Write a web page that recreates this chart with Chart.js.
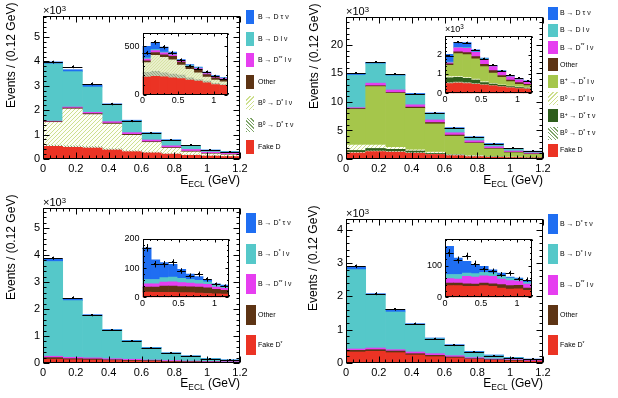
<!DOCTYPE html>
<html>
<head>
<meta charset="utf-8">
<script src="https://cdn.jsdelivr.net/npm/chart.js@4.4.1/dist/chart.umd.min.js"></script>
<style>
  body { margin: 0; background: #fff; font-family: "Liberation Sans", Arial, sans-serif; }
  #page { position: relative; width: 618px; height: 398px; overflow: hidden; background: #fff; }
  canvas { position: absolute; }
  .txt { position: absolute; white-space: nowrap; color: #000; }
  .box { position: absolute; }
  sup { font-size: 70%; vertical-align: 0; position: relative; top: -0.45em; }
  sub { font-size: 70%; vertical-align: 0; position: relative; top: 0.35em; }
</style>
</head>
<body>
<div id="page"></div>
<script>
// centri dei bin in E_ECL (GeV), larghezza 0.12
const binCenters = [0.06, 0.18, 0.30, 0.42, 0.54, 0.66, 0.78, 0.90, 1.02, 1.14];
const binHalf = 0.06;

// valori delle tacche con etichetta
const mainXTicks = [0, 0.2, 0.4, 0.6, 0.8, 1, 1.2];
const insetXTicks = [0, 0.5, 1];
const p1YTicks = [0, 1, 2, 3, 4, 5];
const p2YTicks = [0, 5, 10, 15, 20];
const p3YTicks = [0, 1, 2, 3, 4, 5];
const p4YTicks = [0, 1, 2, 3, 4];
const i1YTicks = [0, 500];
const i2YTicks = [0, 1, 2];
const i3YTicks = [0, 100, 200];
const i4YTicks = [0, 100];

// --- pannello 1 (in alto a sinistra), unità 10^3 ---
const p1Fake     = [0.52, 0.48, 0.45, 0.37, 0.30, 0.25, 0.20, 0.15, 0.12, 0.10];
const p1B0DstTau = [0.05, 0.06, 0.06, 0.05, 0.04, 0.03, 0.02, 0.02, 0.01, 0.01];
const p1B0DstL   = [0.93, 1.51, 1.31, 1.01, 0.63, 0.40, 0.22, 0.12, 0.08, 0.06];
const p1Other    = [0.03, 0.04, 0.04, 0.04, 0.04, 0.03, 0.03, 0.03, 0.02, 0.02];
const p1Dss      = [0.02, 0.04, 0.05, 0.06, 0.07, 0.07, 0.07, 0.07, 0.05, 0.04];
const p1DL       = [2.35, 1.45, 1.04, 0.69, 0.48, 0.28, 0.23, 0.14, 0.08, 0.07];
const p1DTau     = [0.08, 0.08, 0.08, 0.04, 0.03, 0.02, 0.02, 0.01, 0.01, 0.01];
const p1Data     = [3.97, 3.78, 3.08, 2.25, 1.55, 1.05, 0.78, 0.56, 0.38, 0.30];
const p1Err      = [0.06, 0.06, 0.06, 0.05, 0.04, 0.03, 0.03, 0.02, 0.02, 0.02];
// inserto pannello 1 (eventi)
const i1Fake     = [180, 188, 182, 172, 165, 150, 138, 122, 104, 94];
const i1B0DstTau = [50, 52, 43, 40, 35, 22, 17, 16, 11, 10];
const i1B0DstL   = [100, 165, 160, 148, 105, 88, 70, 42, 35, 28];
const i1Other    = [20, 30, 25, 35, 30, 23, 33, 26, 22, 23];
const i1Dss      = [18, 20, 22, 17, 10, 10, 10, 10, 11, 10];
const i1DL       = [12, 10, 8, 8, 7, 7, 7, 6, 5, 4];
const i1DTau     = [120, 75, 50, 20, 10, 10, 8, 9, 9, 5];
const i1Data     = [431, 540, 490, 431, 355, 293, 269, 234, 190, 162];
const i1Err      = [21, 23, 22, 21, 19, 17, 16, 15, 14, 13];

// --- pannello 2 (in alto a destra), unità 10^3 ---
const p2Fake     = [1.05, 1.30, 1.20, 1.00, 0.80, 0.58, 0.40, 0.30, 0.25, 0.20];
const p2B0DstTau = [0.10, 0.10, 0.10, 0.10, 0.05, 0.04, 0.03, 0.02, 0.02, 0.02];
const p2BpDstTau = [0.35, 0.45, 0.40, 0.30, 0.15, 0.10, 0.07, 0.05, 0.03, 0.03];
const p2B0DstL   = [0.95, 0.60, 0.35, 0.20, 0.20, 0.10, 0.10, 0.05, 0.04, 0.03];
const p2BpDstL   = [6.25, 10.25, 9.45, 7.30, 4.95, 3.18, 2.15, 1.33, 0.76, 0.52];
const p2Other    = [0.15, 0.15, 0.15, 0.20, 0.25, 0.20, 0.10, 0.10, 0.10, 0.10];
const p2Dss      = [0.15, 0.45, 0.45, 0.40, 0.45, 0.40, 0.35, 0.30, 0.20, 0.15];
const p2DL       = [5.70, 3.40, 2.50, 1.85, 1.05, 0.70, 0.55, 0.45, 0.35, 0.25];
const p2DTau     = [0.30, 0.25, 0.25, 0.15, 0.20, 0.20, 0.15, 0.12, 0.10, 0.08];
const p2Data     = [15.1, 17.0, 14.9, 11.4, 8.0, 5.4, 3.8, 2.7, 1.85, 1.4];
const p2Err      = [0.12, 0.13, 0.12, 0.11, 0.09, 0.07, 0.06, 0.05, 0.04, 0.04];
// inserto pannello 2 (10^3)
const i2Fake     = [0.50, 0.53, 0.50, 0.47, 0.43, 0.38, 0.33, 0.28, 0.25, 0.22];
const i2B0DstTau = [0.05, 0.05, 0.05, 0.03, 0.02, 0.02, 0.02, 0.02, 0.02, 0.02];
const i2BpDstTau = [0.25, 0.24, 0.23, 0.18, 0.11, 0.08, 0.06, 0.05, 0.04, 0.03];
const i2B0DstL   = [0.08, 0.06, 0.05, 0.05, 0.04, 0.03, 0.03, 0.02, 0.02, 0.02];
const i2BpDstL   = [0.57, 1.17, 1.17, 1.05, 0.78, 0.54, 0.38, 0.23, 0.14, 0.11];
const i2Other    = [0.07, 0.10, 0.10, 0.12, 0.12, 0.12, 0.10, 0.08, 0.08, 0.07];
const i2Dss      = [0.06, 0.20, 0.23, 0.22, 0.25, 0.21, 0.20, 0.17, 0.15, 0.13];
const i2DL       = [0.04, 0.03, 0.03, 0.03, 0.03, 0.03, 0.03, 0.02, 0.02, 0.02];
const i2DTau     = [0.40, 0.26, 0.26, 0.10, 0.04, 0.03, 0.03, 0.03, 0.03, 0.02];
const i2Data     = [1.95, 2.64, 2.62, 2.24, 1.80, 1.45, 1.17, 0.93, 0.77, 0.65];
const i2Err      = [0.045, 0.05, 0.05, 0.047, 0.042, 0.038, 0.034, 0.03, 0.028, 0.025];

// --- pannello 3 (in basso a sinistra), unità 10^3 ---
const p3Fake  = [0.14, 0.12, 0.11, 0.09, 0.07, 0.06, 0.04, 0.03, 0.02, 0.02];
const p3Other = [0.06, 0.04, 0.04, 0.03, 0.03, 0.03, 0.02, 0.02, 0.02, 0.01];
const p3Dss   = [0.05, 0.05, 0.04, 0.04, 0.04, 0.02, 0.03, 0.02, 0.02, 0.02];
const p3DL    = [3.51, 2.10, 1.55, 1.06, 0.68, 0.45, 0.28, 0.19, 0.10, 0.06];
const p3DTau  = [0.09, 0.07, 0.05, 0.02, 0.02, 0.02, 0.01, 0.01, 0.01, 0.01];
const p3Data  = [3.88, 2.42, 1.77, 1.22, 0.82, 0.56, 0.38, 0.26, 0.15, 0.10];
const p3Err   = [0.06, 0.05, 0.04, 0.035, 0.03, 0.024, 0.02, 0.016, 0.012, 0.01];
// inserto pannello 3 (eventi)
const i3Fake  = [18, 17, 17, 17, 16, 16, 14, 13, 12, 11];
const i3Other = [17, 18, 21, 21, 21, 20, 21, 19, 15, 13];
const i3Dss   = [11, 11, 14, 15, 13, 13, 11, 12, 8, 7];
const i3DL    = [15, 15, 15, 16, 15, 12, 12, 9, 7, 6];
const i3DTau  = [108, 67, 52, 44, 31, 18, 13, 8, 4, 5];
const i3Data  = [169, 113, 113, 119, 90, 73, 79, 61, 44, 38];
const i3Err   = [13, 11, 11, 11, 9.5, 8.5, 9, 8, 6.6, 6.2];

// --- pannello 4 (in basso a destra), unità 10^3 ---
const p4Fake  = [0.33, 0.35, 0.31, 0.24, 0.19, 0.15, 0.11, 0.08, 0.06, 0.05];
const p4Other = [0.05, 0.05, 0.05, 0.04, 0.04, 0.03, 0.02, 0.02, 0.02, 0.01];
const p4Dss   = [0.04, 0.05, 0.04, 0.05, 0.05, 0.04, 0.03, 0.02, 0.02, 0.02];
const p4DL    = [2.38, 1.58, 1.13, 0.82, 0.45, 0.31, 0.17, 0.10, 0.06, 0.03];
const p4DTau  = [0.08, 0.05, 0.07, 0.03, 0.02, 0.02, 0.02, 0.02, 0.01, 0.01];
const p4Data  = [2.90, 2.08, 1.61, 1.18, 0.73, 0.53, 0.33, 0.22, 0.16, 0.11];
const p4Err   = [0.055, 0.046, 0.04, 0.034, 0.027, 0.023, 0.018, 0.015, 0.013, 0.012];
// inserto pannello 4 (eventi)
const i4Fake  = [37, 37, 35, 35, 37, 35, 29, 26, 27, 22];
const i4Other = [8, 8, 8, 7, 8, 8, 11, 11, 11, 7];
const i4Dss   = [14, 13, 23, 22, 23, 23, 18, 16, 13, 13];
const i4DL    = [13, 14, 11, 11, 11, 11, 8, 8, 7, 5];
const i4DTau  = [89, 52, 37, 28, 19, 10, 11, 3, 3, 4];
const i4Data  = [140, 118, 130, 106, 89, 82, 72, 76, 58, 56];
const i4Err   = [12, 11, 11, 10, 9.5, 9, 8, 8, 7, 7];

// etichette legenda (dall'alto in basso)
const legend1 = ['B → D τ ν', 'B → D l ν', 'B → D<sup>**</sup> l ν', 'Other', 'B<sup>0</sup> → D<sup>*</sup> l ν', 'B<sup>0</sup> → D<sup>*</sup> τ ν', 'Fake D'];
const legend2 = ['B → D τ ν', 'B → D l ν', 'B → D<sup>**</sup> l ν', 'Other', 'B<sup>+</sup> → D<sup>*</sup> l ν', 'B<sup>0</sup> → D<sup>*</sup> l ν', 'B<sup>+</sup> → D<sup>*</sup> τ ν', 'B<sup>0</sup> → D<sup>*</sup> τ ν', 'Fake D'];
const legend34 = ['B → D<sup>*</sup> τ ν', 'B → D<sup>*</sup> l ν', 'B → D<sup>**</sup> l ν', 'Other', 'Fake D<sup>*</sup>'];

// colori stile ROOT
const cTau = '#1f6ef2', cDL = '#55c8c9', cDss = '#e63ef0', cOther = '#5d3414',
      cBpL = '#a5c64b', cBpTau = '#2e5e1c', cFake = '#eb3324';

const page = document.getElementById('page');

function hatch(line, bg, size, back) {
  const c = document.createElement('canvas');
  c.width = size; c.height = size;
  const g = c.getContext('2d');
  g.fillStyle = bg; g.fillRect(0, 0, size, size);
  g.strokeStyle = line; g.lineWidth = 1;
  g.beginPath();
  for (const k of [-size, 0, size]) {
    if (back) { g.moveTo(k, 0); g.lineTo(k + size, size); }
    else { g.moveTo(k, size); g.lineTo(k + size, 0); }
  }
  g.stroke();
  return g.createPattern(c, 'repeat');
}
// tratteggi: linee verde chiaro su fondo quasi bianco
const hB0L = hatch('#cddf8e', '#fdfef6', 4, false);
const hB0Tau = hatch('#7fa56a', '#f4f8ee', 3, true);
const hB0Lin = hatch('#d6e2a6', '#e9efca', 3, false);
const hB0Tauin = hatch('#98a884', '#c2cbae', 3, true);

// plugin: sfondo bianco, barre d'errore dei dati, cornice e tacche
const hepPlugin = {
  id: 'hep',
  beforeDraw(chart) {
    const a = chart.chartArea, ctx = chart.ctx;
    ctx.save();
    ctx.fillStyle = '#fff';
    ctx.fillRect(a.left, a.top, a.right - a.left, a.bottom - a.top);
    ctx.restore();
  },
  afterDatasetsDraw(chart, args, opts) {
    if (!opts.data) return;
    const xs = chart.scales.x, ys = chart.scales.y, ctx = chart.ctx;
    ctx.save();
    ctx.strokeStyle = '#000';
    ctx.fillStyle = '#000';
    ctx.lineWidth = 1;
    opts.data.forEach((v, i) => {
      const cx = Math.round(xs.getPixelForValue(binCenters[i])) + 0.5;
      const x0 = xs.getPixelForValue(binCenters[i] - binHalf);
      const x1 = xs.getPixelForValue(binCenters[i] + binHalf);
      const py = Math.round(ys.getPixelForValue(v)) + 0.5;
      ctx.beginPath();
      ctx.moveTo(x0, py); ctx.lineTo(x1, py);
      ctx.moveTo(cx, ys.getPixelForValue(v - opts.err[i]));
      ctx.lineTo(cx, ys.getPixelForValue(v + opts.err[i]));
      ctx.stroke();
      ctx.fillRect(cx - 1.5, py - 1.5, 2, 2);
    });
    ctx.restore();
  },
  afterDraw(chart, args, opts) {
    const a = chart.chartArea, ctx = chart.ctx;
    const xs = chart.scales.x, ys = chart.scales.y;
    const L = Math.round(a.left) + 0.5, R = Math.round(a.right) - 0.5;
    const T = Math.round(a.top) + 0.5, B = Math.round(a.bottom) - 0.5;
    ctx.save();
    ctx.strokeStyle = '#000';
    ctx.lineWidth = 1;
    ctx.beginPath();
    const tl = opts.tick || 6;
    // tacche asse x
    let n = Math.round((xs.max - xs.min) / opts.xMinor);
    for (let k = 0; k <= n; k++) {
      const v = xs.min + k * opts.xMinor;
      const major = Math.abs(v / opts.xMajor - Math.round(v / opts.xMajor)) < 1e-6;
      const len = major ? tl : tl / 2;
      const px = Math.round(xs.getPixelForValue(v)) + 0.5;
      ctx.moveTo(px, B); ctx.lineTo(px, B - len);
      ctx.moveTo(px, T); ctx.lineTo(px, T + len);
    }
    // tacche asse y
    n = Math.floor((ys.max - ys.min) / opts.yMinor + 1e-6);
    for (let k = 0; k <= n; k++) {
      const v = ys.min + k * opts.yMinor;
      const major = Math.abs(v / opts.yMajor - Math.round(v / opts.yMajor)) < 1e-6;
      const len = major ? tl : tl / 2;
      const py = Math.round(ys.getPixelForValue(v)) + 0.5;
      ctx.moveTo(L, py); ctx.lineTo(L + len, py);
      ctx.moveTo(R, py); ctx.lineTo(R - len, py);
    }
    ctx.stroke();
    ctx.strokeRect(L, T, R - L, B - T);
    ctx.restore();
  }
};
Chart.register(hepPlugin);
Chart.defaults.font.family = '"Liberation Sans", Arial, sans-serif';
Chart.defaults.color = '#000';

// box = canvas sulla pagina, frame = area del grafico sulla pagina
function histChart(box, frame, stack, data, err, o) {
  const cv = document.createElement('canvas');
  cv.width = box.w; cv.height = box.h;
  cv.style.left = box.x + 'px'; cv.style.top = box.y + 'px';
  page.appendChild(cv);
  const yW = frame.l - box.x, xH = box.y + box.h - frame.b;
  new Chart(cv, {
    type: 'bar',
    data: {
      datasets: stack.map(s => ({
        label: s.label,
        data: s.values.map((v, i) => ({ x: binCenters[i], y: v })),
        backgroundColor: s.color,
        borderWidth: 0,
        barPercentage: 1,
        categoryPercentage: 1
      }))
    },
    options: {
      responsive: false,
      animation: false,
      devicePixelRatio: 1,
      layout: { padding: { left: 0, top: frame.t - box.y, right: box.x + box.w - frame.r, bottom: 0 } },
      plugins: {
        legend: { display: false },
        tooltip: { enabled: false },
        hep: { data: data, err: err, xMajor: o.xStep, xMinor: o.xMinor, yMajor: o.yStep, yMinor: o.yMinor, tick: o.tick }
      },
      scales: {
        x: {
          type: 'linear', min: 0, max: 1.2, offset: false, stacked: true,
          grid: { display: false, drawTicks: false, offset: false },
          border: { display: false },
          ticks: { autoSkip: false, maxRotation: 0, padding: o.xPad, font: { size: o.font }, callback: v => String(v) },
          afterBuildTicks: s => { s.ticks = o.xTicks.map(v => ({ value: v })); },
          afterFit: s => { s.height = xH; }
        },
        y: {
          type: 'linear', min: 0, max: o.yMax, stacked: true,
          grid: { display: false, drawTicks: false },
          border: { display: false },
          ticks: { autoSkip: false, padding: 3, font: { size: o.font }, callback: v => String(v) },
          afterBuildTicks: s => { s.ticks = o.yTicks.map(v => ({ value: v })); },
          afterFit: s => { s.width = yW; }
        }
      }
    }
  });
}

function text(html, left, top, size, extra) {
  const d = document.createElement('div');
  d.className = 'txt';
  d.innerHTML = html;
  d.style.left = left + 'px';
  d.style.top = top + 'px';
  d.style.fontSize = size + 'px';
  d.style.lineHeight = Math.round(size * 1.2) + 'px';
  if (extra) Object.assign(d.style, extra);
  page.appendChild(d);
  return d;
}

function yTitle(cx, bottom) {
  text('Events / (0.12 GeV)', cx - 7, bottom, 12, { transformOrigin: '0 0', transform: 'rotate(-90deg)', lineHeight: '14px' });
}
function xTitle(right, cy) {
  text('E<sub>ECL</sub> (GeV)', 0, cy - 7, 12, { left: 'auto', right: (618 - right) + 'px', lineHeight: '14px' });
}

function legend(labels, fills, bx, bw, bh, y0, dy, tx) {
  labels.forEach((lab, i) => {
    const cy = y0 + i * dy;
    const b = document.createElement('div');
    b.className = 'box';
    b.style.left = bx + 'px'; b.style.top = (cy - bh / 2) + 'px';
    b.style.width = bw + 'px'; b.style.height = bh + 'px';
    b.style.background = fills[i];
    page.appendChild(b);
    text(lab, tx, cy - 5, 7, { lineHeight: '10px' });
  });
}
const cssB0L = 'repeating-linear-gradient(-45deg, #cddf8e 0 1px, #ffffff 1px 3px)';
const cssB0Tau = 'repeating-linear-gradient(45deg, #7fa56a 0 1px, #ffffff 1px 2.5px)';

// ---------- pannello 1 ----------
const mainOpt = (yMax, yTicks, yStep, yMinor) => ({ yMax, yTicks, yStep, yMinor, xTicks: mainXTicks, xStep: 0.2, xMinor: 0.04, font: 11, xPad: 3, tick: 6 });
histChart({ x: 0, y: 0, w: 254, h: 192 }, { l: 43, t: 16, r: 240, b: 159 }, [
  { label: 'Fake D', values: p1Fake, color: cFake },
  { label: 'B0 D*tau', values: p1B0DstTau, color: hB0Tau },
  { label: 'B0 D*l', values: p1B0DstL, color: hB0L },
  { label: 'Other', values: p1Other, color: cOther },
  { label: 'D**', values: p1Dss, color: cDss },
  { label: 'Dl', values: p1DL, color: cDL },
  { label: 'Dtau', values: p1DTau, color: cTau }
], p1Data, p1Err, mainOpt(5.86, p1YTicks, 1, 0.2));

const insOpt = (yMax, yTicks, yStep, yMinor) => ({ yMax, yTicks, yStep, yMinor, xTicks: insetXTicks, xStep: 0.5, xMinor: 0.1, font: 9, xPad: 1, tick: 3 });
histChart({ x: 110, y: 23, w: 125, h: 85 }, { l: 142.5, t: 33, r: 228, b: 94.5 }, [
  { label: 'Fake D', values: i1Fake, color: cFake },
  { label: 'B0 D*tau', values: i1B0DstTau, color: hB0Tauin },
  { label: 'B0 D*l', values: i1B0DstL, color: hB0Lin },
  { label: 'Other', values: i1Other, color: cOther },
  { label: 'D**', values: i1Dss, color: cDss },
  { label: 'Dl', values: i1DL, color: cDL },
  { label: 'Dtau', values: i1DTau, color: cTau }
], i1Data, i1Err, insOpt(637, i1YTicks, 500, 100));

// ---------- pannello 2 ----------
histChart({ x: 303, y: 0, w: 254, h: 192 }, { l: 346, t: 17, r: 543, b: 159 }, [
  { label: 'Fake D', values: p2Fake, color: cFake },
  { label: 'B0 D*tau', values: p2B0DstTau, color: hB0Tau },
  { label: 'B+ D*tau', values: p2BpDstTau, color: cBpTau },
  { label: 'B0 D*l', values: p2B0DstL, color: hB0L },
  { label: 'B+ D*l', values: p2BpDstL, color: cBpL },
  { label: 'Other', values: p2Other, color: cOther },
  { label: 'D**', values: p2Dss, color: cDss },
  { label: 'Dl', values: p2DL, color: cDL },
  { label: 'Dtau', values: p2DTau, color: cTau }
], p2Data, p2Err, mainOpt(24.9, p2YTicks, 5, 1));

histChart({ x: 413, y: 25, w: 125, h: 83 }, { l: 445, t: 35.5, r: 532, b: 93.3 }, [
  { label: 'Fake D', values: i2Fake, color: cFake },
  { label: 'B0 D*tau', values: i2B0DstTau, color: hB0Tauin },
  { label: 'B+ D*tau', values: i2BpDstTau, color: cBpTau },
  { label: 'B0 D*l', values: i2B0DstL, color: hB0Lin },
  { label: 'B+ D*l', values: i2BpDstL, color: cBpL },
  { label: 'Other', values: i2Other, color: cOther },
  { label: 'D**', values: i2Dss, color: cDss },
  { label: 'Dl', values: i2DL, color: cDL },
  { label: 'Dtau', values: i2DTau, color: cTau }
], i2Data, i2Err, insOpt(2.99, i2YTicks, 1, 0.2));

// ---------- pannello 3 ----------
histChart({ x: 0, y: 196, w: 254, h: 198 }, { l: 43, t: 208, r: 240, b: 363 }, [
  { label: 'Fake D*', values: p3Fake, color: cFake },
  { label: 'Other', values: p3Other, color: cOther },
  { label: 'D**', values: p3Dss, color: cDss },
  { label: 'D*l', values: p3DL, color: cDL },
  { label: 'D*tau', values: p3DTau, color: cTau }
], p3Data, p3Err, mainOpt(5.74, p3YTicks, 1, 0.2));

histChart({ x: 110, y: 228, w: 125, h: 83 }, { l: 142.5, t: 238.5, r: 229, b: 297.3 }, [
  { label: 'Fake D*', values: i3Fake, color: cFake },
  { label: 'Other', values: i3Other, color: cOther },
  { label: 'D**', values: i3Dss, color: cDss },
  { label: 'D*l', values: i3DL, color: cDL },
  { label: 'D*tau', values: i3DTau, color: cTau }
], i3Data, i3Err, insOpt(201, i3YTicks, 100, 20));

// ---------- pannello 4 ----------
histChart({ x: 303, y: 196, w: 254, h: 198 }, { l: 346, t: 219, r: 543, b: 363 }, [
  { label: 'Fake D*', values: p4Fake, color: cFake },
  { label: 'Other', values: p4Other, color: cOther },
  { label: 'D**', values: p4Dss, color: cDss },
  { label: 'D*l', values: p4DL, color: cDL },
  { label: 'D*tau', values: p4DTau, color: cTau }
], p4Data, p4Err, mainOpt(4.32, p4YTicks, 1, 0.2));

histChart({ x: 413, y: 228, w: 125, h: 83 }, { l: 445, t: 238.5, r: 531.5, b: 297.3 }, [
  { label: 'Fake D*', values: i4Fake, color: cFake },
  { label: 'Other', values: i4Other, color: cOther },
  { label: 'D**', values: i4Dss, color: cDss },
  { label: 'D*l', values: i4DL, color: cDL },
  { label: 'D*tau', values: i4DTau, color: cTau }
], i4Data, i4Err, insOpt(186, i4YTicks, 100, 20));

// ---------- testi ----------
yTitle(11, 108); yTitle(314, 109); yTitle(11, 300); yTitle(313, 311);
xTitle(240, 180); xTitle(543, 180); xTitle(240, 383); xTitle(543, 383);
text('×10<sup>3</sup>', 43, 4, 11); text('×10<sup>3</sup>', 346, 5, 11);
text('×10<sup>3</sup>', 43, 196, 11); text('×10<sup>3</sup>', 346, 207, 11);
text('×10<sup>3</sup>', 445, 24, 9);

legend(legend1, [cTau, cDL, cDss, cOther, cssB0L, cssB0Tau, cFake], 246, 8, 14, 17, 21.6, 258);
legend(legend2, [cTau, cDL, cDss, cOther, cBpL, cssB0L, cBpTau, cssB0Tau, cFake], 548, 10, 13, 13.3, 17.1, 560);
legend(legend34, [cTau, cDL, cDss, cOther, cFake], 246, 10, 20, 223, 30.5, 258);
legend(legend34, [cTau, cDL, cDss, cOther, cFake], 548, 10, 20, 224, 30.3, 560);
</script>
</body>
</html>
